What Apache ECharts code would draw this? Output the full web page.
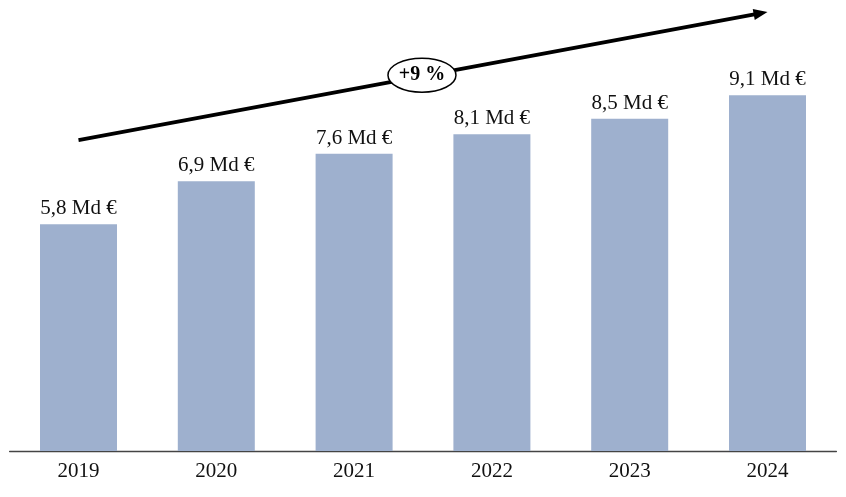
<!DOCTYPE html>
<html>
<head>
<meta charset="utf-8">
<script src="https://cdn.jsdelivr.net/npm/echarts@6/dist/echarts.min.js"></script>
<style>html,body{margin:0;padding:0;background:#fff}#c{width:846px;height:497px}</style>
</head>
<body>
<div id="c"></div>
<script>
const categories = ['2019', '2020', '2021', '2022', '2023', '2024'];
const values = [5.8, 6.9, 7.6, 8.1, 8.5, 9.1];
const growthLabel = '+9 %';
// arrow endpoints in data space: [category index, value]
const arrowStart = [0, 7.95];
const arrowEnd = [5, 11.23];

const FONT = '"Liberation Serif", "DejaVu Serif", serif';
const chart = echarts.init(document.getElementById('c'));
chart.setOption({
  animation: false,
  grid: { left: 9.6, right: 9.6, top: 60, bottom: 46 },
  xAxis: {
    type: 'category', data: categories,
    axisLine: { lineStyle: { color: '#444', width: 1.3 } },
    axisTick: { show: false },
    axisLabel: { color: '#111', fontFamily: FONT, fontSize: 21, margin: 10 }
  },
  yAxis: { type: 'value', min: 0, max: 10, show: false, splitLine: { show: false } },
  series: [{
    type: 'bar', data: values, barWidth: 77,
    itemStyle: { color: '#9EB0CE' },
    label: {
      show: true, position: 'top', distance: 5,
      color: '#111', fontFamily: FONT, fontSize: 21,
      formatter: p => String(p.value).replace('.', ',') + ' Md €'
    }
  }]
});

const p0 = chart.convertToPixel({ gridIndex: 0 }, arrowStart);
const p1 = chart.convertToPixel({ gridIndex: 0 }, arrowEnd);
const dx = p1[0] - p0[0], dy = p1[1] - p0[1];
const len = Math.hypot(dx, dy);
const ux = dx / len, uy = dy / len;
const headLen = 14, headW = 5.5;
const baseX = p1[0] - ux * headLen, baseY = p1[1] - uy * headLen;
const mid = [p0[0] + dx * 0.4985, p0[1] + dy * 0.4985];
chart.setOption({
  graphic: [
    { type: 'line', shape: { x1: p0[0], y1: p0[1], x2: baseX + ux * 2, y2: baseY + uy * 2 },
      style: { stroke: '#000', lineWidth: 3.8 }, z: 10 },
    { type: 'polygon', shape: { points: [[p1[0], p1[1]], [baseX - uy * headW, baseY + ux * headW], [baseX + uy * headW, baseY - ux * headW]] },
      style: { fill: '#000' }, z: 11 },
    { type: 'ellipse', shape: { cx: mid[0], cy: mid[1] - 1, rx: 34, ry: 17 },
      style: { fill: '#fff', stroke: '#000', lineWidth: 1.5 }, z: 12 },
    { type: 'text', x: mid[0], y: mid[1] - 1, z: 13,
      style: { text: growthLabel, fill: '#000', font: 'bold 20px ' + FONT, align: 'center', verticalAlign: 'middle' } }
  ]
});
</script>
</body>
</html>
